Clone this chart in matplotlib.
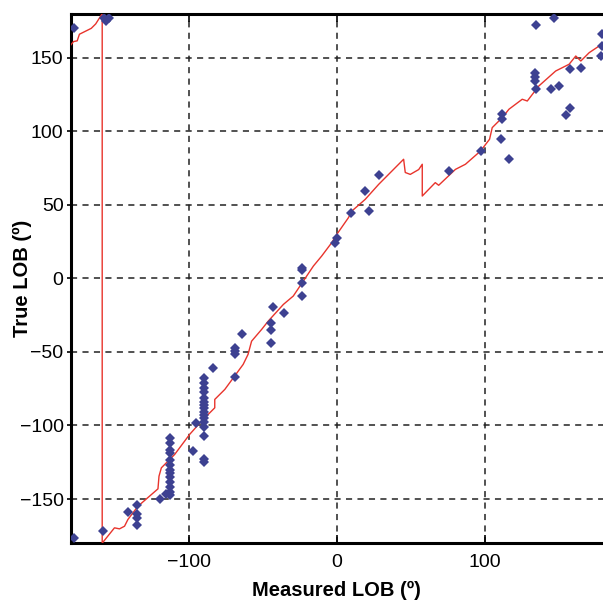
import numpy as np
import matplotlib.pyplot as plt

plt.rcParams['font.family'] = ['Liberation Sans', 'DejaVu Sans']

# measured LOB / true LOB of the observations (degrees)
meas_x = [-177.4, -158.2, -141.2, -134.9, -134.9, -134.9, -134.9, -119.3, -115.7,
          -113, -113, -113, -113, -113, -113, -113, -113, -113, -113, -113, -113, -113,
          -97.2, -90, -90, -90,
          -90, -90, -90, -90, -90, -90, -90, -90, -90, -90, -90, -90, -90,
          -94.9, -84, -69, -69, -69, -69, -64.4,
          28.3, 19.2, 9.3, 21.9, 0, -1.1, -23.3, -23.3, -23.3, -23.3,
          -42.9, -35.7, -44.7, -44.7, -44.7,
          75.7, 97.8, 111.9, 111.9, 111.2, 116.4, 134.4, 146.9,
          134, 134, 134, 134.4, 145.1, 150.3, 155.3, 157.5, 157.5, 165,
          179.2, 179.2, 178.5, -177.4, -157.1, -153.7, -155.9]
true_y = [-176.4, -171.9, -158.7, -154.4, -160.5, -162.8, -168, -149.7, -146.5,
          -108.7, -112.1, -116.7, -118.9, -123.5, -126.9, -130.3, -132.5, -134.8,
          -138.2, -141.6, -145, -147.3,
          -117.5, -123.1, -125, -107.3,
          -67.9, -71.3, -74.7, -77, -81.5, -83.8, -86.1, -88.3, -90.6, -92.9, -95.1, -97.4, -100.8,
          -98.2, -60.7, -47, -49.5, -51.7, -66.9, -38.1,
          70.1, 59.4, 44.7, 45.8, 27.7, 24.3, 7.3, 5.6, -2.9, -12,
          -19.5, -23.8, -30.1, -35.4, -43.7,
          73, 86.6, 111.6, 108.6, 95, 81.4, 172.1, 177.3,
          139.5, 137, 134, 129, 129, 130.8, 110.9, 116.1, 142.6, 143.3,
          166, 158, 151.2, 169.9, 177.3, 176.7, 175.1]

# estimated curve (wraps at +/-180)
curve_x = [-180, -178, -175.5, -174, -170, -166, -163, -158.6, -158.6,
           -150.3, -146.9, -143.5, -141.2, -134.4, -120.9, -120.2, -118.6, -109.6,
           -99.5, -91.5, -82.5, -82.5, -75.7, -63.3, -60, -57.6, -50.8, -46.3,
           -36.1, -29.4, -15.8, -10.2, -3.4, 0, 7.9, 10.2, 19.2, 28.3, 37.3, 45.2,
           46.3, 49.7, 55.4, 57.8, 57.8, 66.6, 68.9, 80.2, 87, 97.2, 103.3, 105.1,
           111.9, 116.4, 125.4, 128.8, 136.6, 148, 157.1, 161.6, 165, 170.7, 177.4, 180]
curve_y = [158.5, 161, 161.5, 166, 168, 170, 173, 180, -180,
           -169.6, -170.3, -168.5, -163.9, -154.9, -143.1, -134.5, -128.8, -119.7,
           -106.1, -97.1, -88, -82.3, -75.5, -58.5, -51.7, -42.7, -34.7, -29,
           -17.7, -12, 8.4, 15.2, 24.3, 29.9, 41.3, 45.8, 53.7, 63.9, 73, 81,
           72, 70.7, 74, 77.6, 56, 65.1, 63.3, 74.1, 77.6, 86.6, 94.6, 102.5,
           109.3, 115, 121.8, 120.6, 130.8, 141, 145.6, 151.2, 147.8, 153.5, 158, 160]

x_ticks = [-100, 0, 100]
y_ticks = [-150, -100, -50, 0, 50, 100, 150]

fig = plt.figure(figsize=(6.03, 6.01), dpi=100)
ax = fig.add_axes([0.117, 0.0963, 0.883, 0.881])

ax.plot(curve_x, curve_y, color='#e8342c', lw=1.0, zorder=3)
ax.plot(meas_x, true_y, 'D', color='#3d4191', markersize=5.5, markeredgewidth=0, zorder=4)

ax.set_xlim(-180, 180)
ax.set_ylim(-180, 180)
ax.set_xticks(x_ticks)
ax.set_yticks(y_ticks)
ax.set_xticklabels(['\u2212100', '0', '100'])
ax.set_yticklabels(['\u2212150', '\u2212100', '\u221250', '0', '50', '100', '150'])
ax.tick_params(axis='x', direction='in', length=6, width=1.2, labelsize=14, pad=8, top=True)
ax.tick_params(axis='y', direction='out', length=3, width=1.2, labelsize=14, pad=2)
ax.grid(True, color='#222222', linestyle=(0, (4, 3.5)), linewidth=1.1)

for s in ['left', 'bottom', 'top']:
    ax.spines[s].set_linewidth(2.2)
ax.spines['right'].set_visible(False)

ax.set_xlabel('Measured LOB (º)', fontsize=14.5, fontweight='bold', va='center')
ax.set_ylabel('True LOB (º)', fontsize=14.5, fontweight='bold', va='center')
ax.xaxis.set_label_coords(0.5, -0.089)
ax.yaxis.set_label_coords(-0.091, 0.5)

fig.savefig('out.png', dpi=100)
